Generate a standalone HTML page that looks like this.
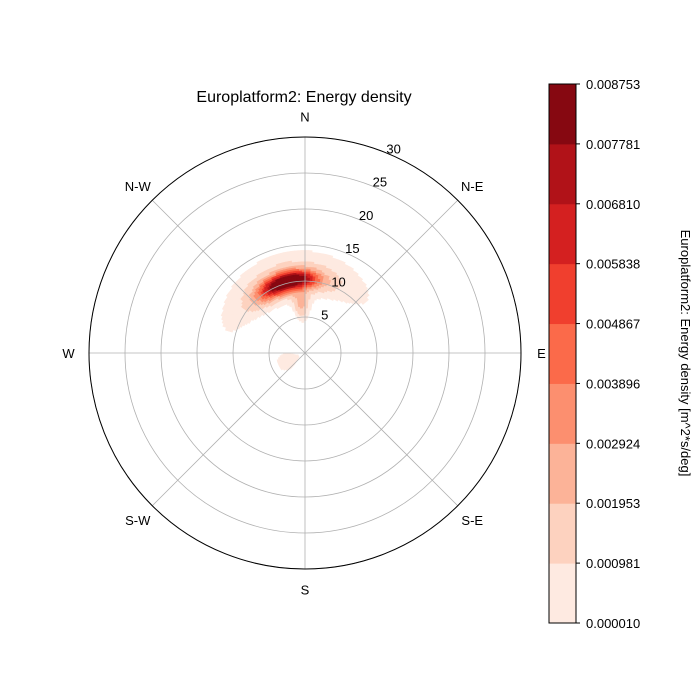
<!DOCTYPE html>
<html><head><meta charset="utf-8"><style>
body{margin:0;background:#fff;}
svg{display:block;font-family:"Liberation Sans","DejaVu Sans",sans-serif;}
</style></head><body>
<svg id="chart" width="700" height="700" viewBox="0 0 700 700">
<rect width="700" height="700" fill="#fff"/>
<text x="304" y="102" font-size="16" text-anchor="middle">Europlatform2: Energy density</text>
<g id="contours"></g>
<g id="grid"></g>
<g id="cbar"></g>
<text transform="translate(681,353) rotate(90)" font-size="13" text-anchor="middle">Europlatform2: Energy density [m^2*s/deg]</text>
</svg>
<script>
// ---- data ----
const levels = [0.000010,0.000981,0.001953,0.002924,0.003896,0.004867,0.005838,0.006810,0.007781,0.008753];
const levelLabels = ["0.000010","0.000981","0.001953","0.002924","0.003896","0.004867","0.005838","0.006810","0.007781","0.008753"];
const bandColors = ["#feeae1","#fdd2bf","#fcb398","#fc8f6f","#fb6a4a","#f03f2e","#d42020","#b11218","#860811"];
const radialTicks = [5,10,15,20,25,30];
const dirLabels = ["N","N-E","E","S-E","S","S-W","W","N-W"];
const dirAngles = [0,45,90,135,180,225,270,315];
// blob components: direction (deg, compass), period, amplitude, sigma dir, sigma period
const compDir = [352, 334, 348, 356, 245];
const compT   = [10.3, 10.0, 11.0, 7.0, 2.5];
const compAmp = [0.0075, 0.0042, 0.0013, 0.0022, 0.0008];
const compSD  = [14, 12, 38, 6, 18];
const compST  = [0.9, 1.0, 2.0, 1.4, 1.2];

const NS="http://www.w3.org/2000/svg";
const cx=305, cy=353, R=216, rMax=30;
const rScale = v => v/rMax*R;
function pt(dir, T){const a=dir*Math.PI/180, r=rScale(T);return [cx+r*Math.sin(a), cy-r*Math.cos(a)];}
function mk(tag, attrs, parent){const e=document.createElementNS(NS,tag);for(const k in attrs)e.setAttribute(k,attrs[k]);parent.appendChild(e);return e;}
function field(d,T){let s=0;for(let i=0;i<compDir.length;i++){let dd=((d-compDir[i]+540)%360)-180;s+=compAmp[i]*Math.exp(-0.5*(dd*dd/(compSD[i]*compSD[i])+(T-compT[i])*(T-compT[i])/(compST[i]*compST[i])));}return s;}

// contours
const cg=document.getElementById('contours');
const dStep=2, tStep=0.25;
for(let d=0; d<360; d+=dStep){
  for(let T=0; T<18; T+=tStep){
    const v=field(d+dStep/2, T+tStep/2);
    if(v<0.00035) continue;
    let b=0; while(b<bandColors.length-1 && v>=levels[b+1]) b++;
    const p1=pt(d,T),p2=pt(d+dStep,T),p3=pt(d+dStep,T+tStep),p4=pt(d,T+tStep);
    const el=mk('path',{d:`M${p1}L${p2}L${p3}L${p4}Z`,fill:bandColors[b],stroke:bandColors[b],'stroke-width':0.6},cg);
    
    
  }
}

// grid
const gg=document.getElementById('grid');
radialTicks.forEach((t,i)=>{
  const c=mk('circle',{cx:cx,cy:cy,r:rScale(t),fill:'none',stroke:'#b0b0b0','stroke-width':0.8},gg);
  
  
  const lp=pt(22.5,t);
  const tx=mk('text',{x:lp[0]+6,y:lp[1],'font-size':13,'text-anchor':'middle'},gg);
  tx.textContent=t;
  
  
});
dirAngles.forEach((a,i)=>{
  const p=pt(a,rMax);
  const l=mk('line',{x1:cx,y1:cy,x2:p[0],y2:p[1],stroke:'#b0b0b0','stroke-width':0.8},gg);
  
  
  const q=pt(a,rMax*1.095);
  const tx=mk('text',{x:q[0],y:q[1]+5,'font-size':13,'text-anchor':'middle'},gg);
  tx.textContent=dirLabels[i];
  
  
});
const outer=mk('circle',{cx:cx,cy:cy,r:R,fill:'none',stroke:'#000','stroke-width':1},gg);



// colorbar
const bg=document.getElementById('cbar');
const cbX=549,cbW=27,cbTop=84,cbBot=623;
const bh=(cbBot-cbTop)/bandColors.length;
bandColors.forEach((c,i)=>{
  const r=mk('rect',{x:cbX,y:cbBot-(i+1)*bh,width:cbW,height:bh+0.5,fill:c},bg);
  
  
});
const fr=mk('rect',{x:cbX,y:cbTop,width:cbW,height:cbBot-cbTop,fill:'none',stroke:'#000','stroke-width':1},bg);


levelLabels.forEach((s,i)=>{
  const y=cbBot-i*bh;
  const tk=mk('line',{x1:cbX+cbW,y1:y,x2:cbX+cbW+4,y2:y,stroke:'#000'},bg);
  
  
  const tx=mk('text',{x:586,y:y+5,'font-size':13},bg);
  tx.textContent=s;
  
  
});
</script>
</body></html>
